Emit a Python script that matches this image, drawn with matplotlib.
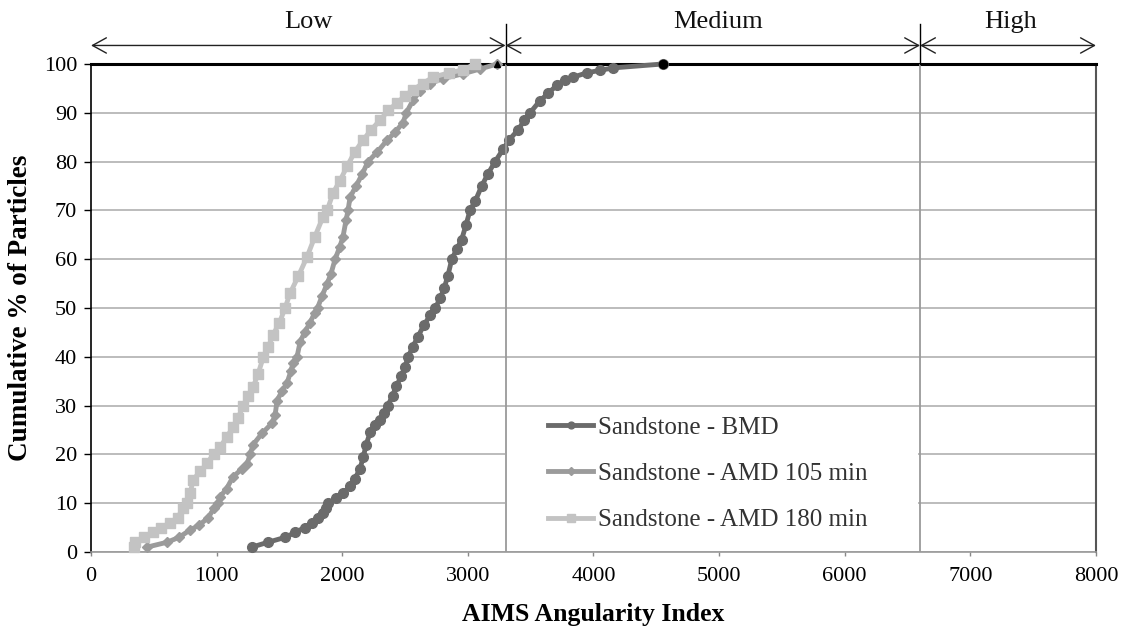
import matplotlib
matplotlib.use("Agg")
import matplotlib.pyplot as plt
from matplotlib.patches import FancyArrowPatch, Rectangle

plt.rcParams['font.family'] = ['Liberation Serif', 'DejaVu Serif']

# ---------------- data ----------------
bmd_x = [1280, 1409, 1545, 1624, 1700, 1760, 1810, 1848, 1870, 1889,
         1950, 2008, 2060, 2100, 2140, 2168, 2190, 2222, 2260, 2300,
         2335, 2363, 2400, 2430, 2470, 2500, 2525, 2560, 2600, 2650,
         2700, 2740, 2780, 2810, 2840, 2872, 2910, 2950, 2985, 3017,
         3060, 3110, 3160, 3217, 3280, 3330, 3400, 3450, 3495, 3575,
         3640, 3710, 3770, 3837, 3949, 4050, 4156, 4550]
bmd_y = [1, 2, 3, 4, 5, 6, 7, 8, 9, 10,
         11, 12, 13.5, 15, 17, 19.5, 22, 24.5, 26, 27,
         28.5, 30, 32, 34, 36, 38, 40, 42, 44, 46.5,
         48.5, 50, 52, 54, 56.5, 60, 62, 64, 67, 70,
         72, 75, 77.5, 80, 82.5, 84.5, 86.5, 88.5, 90, 92.5,
         94, 95.7, 96.7, 97.3, 98.2, 98.7, 99.2, 100]

amd105_x = [446, 605, 700, 788, 860, 932, 980, 1012, 1027, 1080,
            1130, 1200, 1242, 1266, 1290, 1361, 1441, 1465, 1481, 1520,
            1560, 1590, 1608, 1640, 1664, 1700, 1744, 1780, 1803, 1840,
            1880, 1910, 1943, 1980, 2006, 2030, 2046, 2062, 2110, 2160,
            2205, 2280, 2357, 2420, 2484, 2510, 2564, 2620, 2699, 2800,
            2962, 3100, 3232]
amd105_y = [1, 2, 3, 4.5, 5.5, 7, 9, 10, 11.3, 13,
            15.4, 17, 18, 20, 22, 24.3, 26.4, 28, 31, 33,
            34.6, 37, 38.7, 40, 43, 45, 47, 49, 50, 52.5,
            55, 57, 60, 62.5, 64.6, 68, 70, 72.7, 75, 77.5,
            80, 82, 84.4, 86, 88, 90, 92.6, 94.5, 96, 97,
            98, 99, 100]

amd180_x = [340, 350, 420, 494, 560, 629, 690, 732, 763, 790,
            812, 870, 924, 975, 1027, 1080, 1130, 1170, 1213, 1250,
            1290, 1330, 1372, 1410, 1449, 1500, 1545, 1584, 1650, 1720,
            1780, 1847, 1880, 1927, 1980, 2038, 2100, 2166, 2230, 2301,
            2366, 2436, 2500, 2564, 2640, 2723, 2850, 2962, 3057]
amd180_y = [1, 2, 3, 4, 5, 6, 7, 9, 10, 12,
            14.8, 16.5, 18.2, 20, 21.5, 23.5, 25.6, 27.5, 30, 32,
            33.8, 36.5, 40, 42, 44.5, 47, 50, 53, 56.5, 60.5,
            64.5, 68.7, 70, 73.6, 76, 79, 82, 84.4, 86.5, 88.5,
            90.5, 92, 93.5, 94.7, 96, 97.3, 98.2, 98.8, 100]

series_labels = ["Sandstone - BMD", "Sandstone - AMD 105 min", "Sandstone - AMD 180 min"]
zone_names = ["Low", "Medium", "High"]
zone_edges = [0, 3300, 6600, 8000]
zone_label_x = [1730, 4990, 7320]
x_ticks = [0, 1000, 2000, 3000, 4000, 5000, 6000, 7000, 8000]
y_ticks = [0, 10, 20, 30, 40, 50, 60, 70, 80, 90, 100]

# ---------------- figure ----------------
fig = plt.figure(figsize=(11.24, 6.35), dpi=100)
ax = fig.add_axes([0.081, 0.1307, 0.894, 0.7685])
ax.set_xlim(0, 8000)
ax.set_ylim(0, 100)
ax.set_xticks(x_ticks)
ax.set_yticks(y_ticks)
ax.set_axisbelow(True)
ax.yaxis.grid(True, color='#a9a9a9', lw=1.1)
ax.xaxis.grid(False)

for side, col, lw in [('left', 'black', 1.2), ('top', 'black', 2.2),
                      ('right', '#555555', 1.5), ('bottom', '#9a9a9a', 1.2)]:
    ax.spines[side].set_color(col)
    ax.spines[side].set_linewidth(lw)

ax.tick_params(axis='y', direction='out', length=5, width=1, color='black',
               labelsize=16, pad=5)
ax.tick_params(axis='x', direction='out', length=3, width=1, color='#888888',
               labelsize=16, pad=8)

# white box behind legend (hides gridlines)
ax.add_patch(Rectangle((0.412, 0.004), 0.411, 0.288, transform=ax.transAxes,
                       facecolor='white', edgecolor='none', zorder=1))

# series
colors = ['#6b6b6b', '#9b9b9b', '#c3c3c3']
markers = ['o', 'D', 's']
msizes = [7, 5.5, 7.5]
xs = [bmd_x, amd105_x, amd180_x]
ys = [bmd_y, amd105_y, amd180_y]
handles = []
for x, y, c, m, ms, lab in zip(xs, ys, colors, markers, msizes, series_labels):
    h, = ax.plot(x, y, color=c, lw=3.5, marker=m, ms=ms, mec=c, mfc=c,
                 label=lab, zorder=3, clip_on=False)
    handles.append(h)

# dark end points at 100 %
ax.plot(bmd_x[-1], bmd_y[-1], 'o', color='black', ms=6, zorder=8, clip_on=False)
ax.plot(amd105_x[-1], amd105_y[-1], '^', color='black', ms=5, zorder=8, clip_on=False)

# zone boundary lines
for b in zone_edges[1:-1]:
    ax.plot([b, b], [0, 100], color='#9a9a9a', lw=1.3, zorder=6)
    ax.plot([b, b], [100, 108.2], color='black', lw=1, zorder=6, clip_on=False)

# zone arrows and labels
for i, name in enumerate(zone_names):
    x0, x1 = zone_edges[i], zone_edges[i + 1]
    arr = FancyArrowPatch((x0, 103.8), (x1, 103.8),
                          arrowstyle='<->,head_length=1.0,head_width=0.55',
                          mutation_scale=10, lw=1, color='#222222',
                          shrinkA=0, shrinkB=0, transform=ax.transData,
                          clip_on=False, zorder=7)
    ax.add_patch(arr)
    ax.text(zone_label_x[i], 108.6, name, ha='center', va='center',
            fontsize=19, color='#111111', clip_on=False)

leg = ax.legend(handles=handles, loc='upper left', bbox_to_anchor=(0.455, 0.278),
                frameon=False, borderpad=0, prop={'size': 18},
                handlelength=1.8, handletextpad=0.2, labelspacing=0.95,
                markerscale=0.7, borderaxespad=0)
for t in leg.get_texts():
    t.set_color('#333333')
leg.set_zorder(9)

ax.set_xlabel('AIMS Angularity Index', fontsize=18.5, fontweight='bold', labelpad=12)
ax.set_ylabel('Cumulative % of Particles', fontsize=19.5, fontweight='bold', labelpad=8)

fig.savefig('out.png', dpi=100)
